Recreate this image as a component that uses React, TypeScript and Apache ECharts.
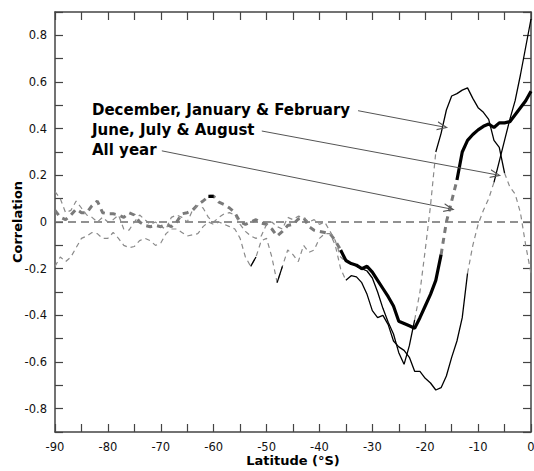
import React, { useEffect, useRef } from "react";
import * as echarts from "echarts";

// Latitude grid (°S), 1° steps
const latitudes = [
  -90, -89, -88, -87, -86, -85, -84, -83, -82, -81,
  -80, -79, -78, -77, -76, -75, -74, -73, -72, -71,
  -70, -69, -68, -67, -66, -65, -64, -63, -62, -61,
  -60, -59, -58, -57, -56, -55, -54, -53, -52, -51,
  -50, -49, -48, -47, -46, -45, -44, -43, -42, -41,
  -40, -39, -38, -37, -36, -35, -34, -33, -32, -31,
  -30, -29, -28, -27, -26, -25, -24, -23, -22, -21,
  -20, -19, -18, -17, -16, -15, -14, -13, -12, -11,
  -10, -9, -8, -7, -6, -5, -4, -3, -2, -1,
  0,
];

const allYear = [
  0.05, 0.02, 0.01, 0.03, 0.055, 0.04, 0.04, 0.07, 0.09, 0.04,
  0.035, 0.035, 0.03, 0.02, 0.04, 0.03, 0.0, -0.015, -0.02, -0.015,
  -0.02, -0.01, -0.02, 0.0, 0.035, 0.04, 0.05, 0.075, 0.09, 0.11,
  0.11, 0.085, 0.075, 0.06, 0.04, 0.0, -0.01, 0.0, 0.01, -0.005,
  -0.01, -0.03, -0.06, -0.04, -0.015, -0.01, 0.013, 0.02, -0.02, -0.035,
  -0.04, -0.045, -0.05, -0.08, -0.12, -0.165, -0.178, -0.185, -0.2, -0.19,
  -0.215, -0.25, -0.285, -0.32, -0.36, -0.425, -0.435, -0.445, -0.455, -0.41,
  -0.36, -0.31, -0.25, -0.14, 0.0, 0.09, 0.18, 0.3, 0.35, 0.375,
  0.395, 0.41, 0.42, 0.405, 0.425, 0.425, 0.43, 0.46, 0.49, 0.52,
  0.56,
];

const djf = [
  0.13, 0.1, 0.04, 0.05, 0.09, 0.06, 0.03, 0.02, 0.0, 0.02,
  0.0, 0.01, 0.03, -0.03, -0.035, 0.0, 0.03, 0.01, -0.01, 0.0,
  -0.02, -0.03, 0.02, 0.03, 0.02, 0.0, 0.05, 0.07, 0.06, 0.02,
  0.0, 0.02, 0.035, 0.04, 0.03, -0.01, -0.04, -0.06, -0.07, -0.06,
  -0.01, 0.0, -0.02, -0.03, 0.02, 0.01, 0.025, 0.02, 0.0, 0.01,
  -0.01, 0.0, -0.04, -0.08, -0.15, -0.17, -0.18, -0.19, -0.2, -0.21,
  -0.24, -0.3, -0.37, -0.43, -0.48, -0.56, -0.61, -0.53, -0.42, -0.3,
  -0.12, 0.07, 0.3, 0.38, 0.48, 0.54, 0.55, 0.565, 0.575, 0.53,
  0.49, 0.47, 0.44, 0.35, 0.32, 0.21, 0.15, 0.12, 0.04, -0.1,
  -0.22,
];

const jja = [
  -0.19, -0.15, -0.17, -0.15, -0.11, -0.07, -0.06, -0.045, -0.05, -0.07,
  -0.07, -0.045, -0.07, -0.1, -0.11, -0.105, -0.08, -0.07, -0.08, -0.1,
  -0.09, -0.05, -0.03, -0.03, -0.045, -0.06, -0.055, -0.05, -0.02, 0.0,
  -0.01, 0.0, -0.01, -0.02, -0.03, -0.07, -0.15, -0.19, -0.15, -0.08,
  -0.07, -0.15, -0.26, -0.19, -0.12, -0.14, -0.17, -0.1, -0.13, -0.12,
  -0.07, -0.05, -0.05, -0.1, -0.2, -0.25, -0.23, -0.235, -0.26, -0.31,
  -0.38, -0.41, -0.4, -0.44, -0.51, -0.535, -0.55, -0.58, -0.64, -0.64,
  -0.67, -0.69, -0.72, -0.71, -0.66, -0.58, -0.51, -0.41, -0.22, -0.1,
  -0.01, 0.05, 0.1, 0.17, 0.26, 0.35, 0.44, 0.52, 0.63, 0.75,
  0.87,
];

// Latitude ranges where the correlation is significant (drawn solid black)
const allYearSignificant = [[-61, -60], [-36, -17], [-14, 0]];
const djfSignificant = [[-33, -22], [-18, -5]];
const jjaSignificant = [[-53, -52], [-48, -47], [-35, -12], [-7, 0]];

// Annotation labels and their arrows (from -> to, in data coordinates)
const labelTexts = ["December, January & February", "June, July & August", "All year"];
const arrowFrom = [[-32.7, 0.477], [-50.9, 0.39], [-69.8, 0.305]];
const arrowTo = [[-16.7, 0.408], [-6.67, 0.203], [-15.45, 0.057]];

const yTickValues = [-0.8, -0.6, -0.4, -0.2, 0, 0.2, 0.4, 0.6, 0.8];

function solidPart(values: number[], ranges: number[][]) {
  return latitudes.map((lat, i) => {
    const inside = ranges.some(([a, b]) => lat >= a && lat <= b);
    return [lat, inside ? values[i] : null];
  });
}
function dashedPart(values: number[], ranges: number[][]) {
  return latitudes.map((lat, i) => {
    const strictlyInside = ranges.some(([a, b]) => lat > a && lat < b);
    return [lat, strictlyInside ? null : values[i]];
  });
}

const AX = "#444";
const TICK_FONT = "DejaVu Sans";
const CHEVRON = "path://M0,10 L5,0 L10,10 L8.6,10 L5,2.8 L1.4,10 Z";

export default function App() {
  const ref = useRef<HTMLDivElement>(null);
  useEffect(() => {
    if (!ref.current) return;
    const chart = echarts.init(ref.current, null, { renderer: "svg" });

    const axisCommon = {
      type: "value",
      axisLine: { show: true, onZero: false, lineStyle: { color: AX, width: 1.5 } },
      splitLine: { show: false },
    };

    const lineBase = { type: "line", showSymbol: false, symbol: "none", connectNulls: false, silent: true };

    const series: any[] = [
      {
        ...lineBase,
        name: "zero",
        data: [[-90, 0], [0, 0]],
        lineStyle: { color: "#6e6e6e", width: 1.5, type: [8, 5] },
        z: 1,
        markLine: {
          silent: true,
          animation: false,
          symbol: ["none", CHEVRON],
          symbolSize: [9, 11],
          label: { show: false },
          lineStyle: { color: "#555", width: 1, type: "solid" },
          data: arrowFrom.map((f, i) => [{ coord: f }, { coord: arrowTo[i] }]),
        },
      },
      {
        ...lineBase,
        name: "All year (ns)",
        data: dashedPart(allYear, allYearSignificant),
        lineStyle: { color: "#7a7a7a", width: 3, type: [6, 5] },
        z: 2,
      },
      {
        ...lineBase,
        name: "DJF (ns)",
        data: dashedPart(djf, djfSignificant),
        lineStyle: { color: "#8a8a8a", width: 1.2, type: [5, 4] },
        z: 2,
      },
      {
        ...lineBase,
        name: "JJA (ns)",
        data: dashedPart(jja, jjaSignificant),
        lineStyle: { color: "#8a8a8a", width: 1.2, type: [5, 4] },
        z: 2,
      },
      {
        ...lineBase,
        name: "DJF",
        data: solidPart(djf, djfSignificant),
        lineStyle: { color: "#000", width: 1.3, type: "solid" },
        z: 3,
      },
      {
        ...lineBase,
        name: "JJA",
        data: solidPart(jja, jjaSignificant),
        lineStyle: { color: "#000", width: 1.3, type: "solid" },
        z: 3,
      },
      {
        ...lineBase,
        name: "All year",
        data: solidPart(allYear, allYearSignificant),
        lineStyle: { color: "#000", width: 3.2, type: "solid" },
        z: 4,
      },
    ];

    const option: any = {
      animation: false,
      backgroundColor: "#fff",
      grid: { left: 55, right: 3, top: 12, bottom: 39, containLabel: false, outerBoundsMode: "none" },
      xAxis: [
        {
          ...axisCommon,
          position: "bottom",
          min: -90,
          max: 0,
          interval: 10,
          axisTick: { show: true, inside: true, length: 8, lineStyle: { color: AX, width: 1.2 } },
          minorTick: { show: true, splitNumber: 2, length: 8, lineStyle: { color: AX, width: 1.2 } },
          axisLabel: { show: true, margin: 9, color: "#111", fontSize: 11.5, fontFamily: TICK_FONT },
          name: "Latitude (°S)",
          nameLocation: "middle",
          nameGap: 22,
          nameMoveOverlap: false,
          nameTextStyle: { color: "#000", fontSize: 13, fontWeight: "bold", fontFamily: "DejaVu Sans" },
        },
        {
          ...axisCommon,
          position: "top",
          min: -90,
          max: 0,
          interval: 10,
          axisTick: { show: true, inside: true, length: 8, lineStyle: { color: AX, width: 1.2 } },
          minorTick: { show: true, splitNumber: 2, length: 8, lineStyle: { color: AX, width: 1.2 } },
          axisLabel: { show: false },
        },
      ],
      yAxis: [
        {
          ...axisCommon,
          position: "left",
          min: -0.9,
          max: 0.9,
          interval: 0.1,
          axisTick: { show: true, inside: true, length: 8, lineStyle: { color: AX, width: 1.2 } },
          axisLabel: {
            show: true,
            margin: 8,
            color: "#111",
            fontSize: 11.5,
            fontFamily: TICK_FONT,
            formatter: (v: number) => {
              const k = Math.round(v * 10);
              const hit = yTickValues.find((t) => Math.round(t * 10) === k);
              return hit === undefined ? "" : String(hit);
            },
          },
          name: "Correlation",
          nameLocation: "middle",
          nameGap: 31,
          nameMoveOverlap: false,
          nameTextStyle: { color: "#000", fontSize: 13, fontWeight: "bold", fontFamily: "DejaVu Sans" },
        },
        {
          ...axisCommon,
          position: "right",
          min: -0.9,
          max: 0.9,
          interval: 0.1,
          axisTick: { show: true, inside: true, length: 8, lineStyle: { color: AX, width: 1.2 } },
          axisLabel: { show: false },
        },
      ],
      graphic: labelTexts.map((t, i) => ({
        type: "text",
        x: 92,
        y: 110 + i * 20,
        silent: true,
        style: {
          text: t,
          fill: "#000",
          font: 'bold 15px "DejaVu Sans"',
          verticalAlign: "middle",
        },
      })),
      series,
    };
    chart.setOption(option);
    return () => chart.dispose();
  }, []);

  return (
    <div
      ref={ref}
      style={{ position: "absolute", left: 0, top: 0, width: 534, height: 471, background: "#fff" }}
    />
  );
}
